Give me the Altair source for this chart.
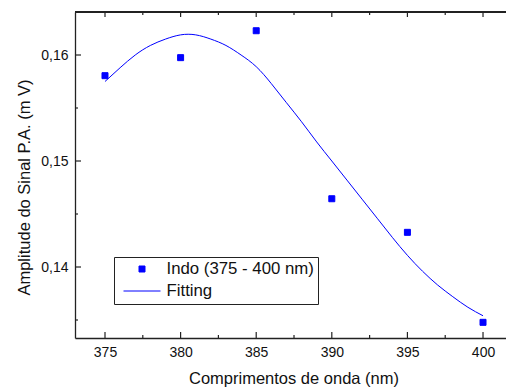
import altair as alt
import pandas as pd

# ---- data ----
wavelength = [375, 380, 385, 390, 395, 400]
amplitude = [0.15805, 0.15975, 0.16229, 0.14644, 0.14327, 0.13478]

fit_x = [375, 376, 377, 378, 379, 380, 381, 382, 383, 384, 385, 386, 387,
         388, 389, 390, 391, 392, 393, 394, 395, 396, 397, 398, 399, 400]
fit_y = [0.1575, 0.1588, 0.1600, 0.1609, 0.1615, 0.1619, 0.1619, 0.1615,
         0.1609, 0.1600, 0.1589, 0.1573, 0.1555, 0.1537, 0.1518, 0.1500,
         0.1482, 0.1464, 0.1446, 0.1428, 0.1411, 0.1396, 0.1383, 0.1372,
         0.1362, 0.1354]

series_names = ["Indo (375 - 400 nm)", "Fitting"]

x_major = [375, 380, 385, 390, 395, 400]
x_minor = [377.5, 382.5, 387.5, 392.5, 397.5]
y_major = [0.14, 0.15, 0.16]
y_minor = [0.135, 0.145, 0.155]

x_domain = [373.016, 401.52]
y_domain = [0.133302, 0.164057]

FONT = "Liberation Sans"
BLUE = "#0000ff"
W, H = 431, 326

pts = pd.DataFrame({"x": wavelength, "y": amplitude, "series": series_names[0]})
fit = pd.DataFrame({"x": fit_x, "y": fit_y, "series": series_names[1]})

xs = alt.Scale(domain=x_domain, nice=False, zero=False)
ys = alt.Scale(domain=y_domain, nice=False, zero=False)

x_axis = alt.Axis(values=x_major, ticks=False, grid=False, domain=True,
                  domainColor="#222", domainWidth=1.3, labelFont=FONT,
                  labelFontSize=14, labelColor="#111", labelPadding=7,
                  title="Comprimentos de onda (nm)", titleFont=FONT,
                  titleFontSize=16.5, titleFontWeight="normal", titleColor="#111",
                  titleBaseline="alphabetic", titleY=45, titleX=218.5)
y_axis = alt.Axis(values=y_major, ticks=False, grid=False, domain=True,
                  domainColor="#222", domainWidth=1.3, labelFont=FONT,
                  labelFontSize=14, labelColor="#111", labelPadding=7,
                  labelExpr="replace(format(datum.value, '.2f'), '.', ',')",
                  title="Amplitude do Sinal P.A. (m V)", titleFont=FONT,
                  titleFontSize=16.5, titleFontWeight="normal", titleColor="#111",
                  titleAngle=270, titleBaseline="alphabetic", titleAlign="center",
                  titleX=-46, titleY=175)

color_scale = alt.Scale(domain=series_names, range=[BLUE, BLUE])
shape_scale = alt.Scale(domain=series_names, range=["square", "stroke"])
size_scale = alt.Scale(domain=series_names, range=[36, 1369])

legend = alt.Legend(title=None, orient="none", legendX=39, legendY=245,
                    strokeColor="#222", fillColor="white", padding=3.5,
                    labelFont=FONT, labelFontSize=16.8, labelColor="#111",
                    symbolOffset=5.5, labelOffset=5.5, rowPadding=4,
                    clipHeight=17, symbolStrokeWidth=1,
                    labelExpr="datum.label + '\u00a0'")

line = alt.Chart(fit).mark_line(strokeWidth=1, interpolate="natural").encode(
    x=alt.X("x:Q", scale=xs, axis=x_axis),
    y=alt.Y("y:Q", scale=ys, axis=y_axis),
    stroke=alt.Stroke("series:N", scale=color_scale, legend=legend),
)

points = alt.Chart(pts).mark_point(filled=True, opacity=1, strokeWidth=1).encode(
    x=alt.X("x:Q", scale=xs),
    y=alt.Y("y:Q", scale=ys),
    fill=alt.Fill("series:N", scale=color_scale, legend=legend),
    stroke=alt.Stroke("series:N", scale=color_scale, legend=legend),
    shape=alt.Shape("series:N", scale=shape_scale, legend=legend),
    size=alt.Size("series:N", scale=size_scale, legend=legend),
)

# tick marks (inward) drawn from the tick value arrays
tick_col = "#222"
xmaj = pd.DataFrame({"v": x_major})
xmin = pd.DataFrame({"v": x_minor})
ymaj = pd.DataFrame({"v": y_major})
ymin = pd.DataFrame({"v": y_minor})

bt_maj = alt.Chart(xmaj).mark_rule(color=tick_col, strokeWidth=1.2).encode(
    x=alt.X("v:Q", scale=xs), y=alt.value(H), y2=alt.value(H - 6))
bt_min = alt.Chart(xmin).mark_rule(color=tick_col, strokeWidth=1.2).encode(
    x=alt.X("v:Q", scale=xs), y=alt.value(H), y2=alt.value(H - 3))
tp_maj = alt.Chart(xmaj).mark_rule(color=tick_col, strokeWidth=1.2).encode(
    x=alt.X("v:Q", scale=xs), y=alt.value(0), y2=alt.value(5))
tp_min = alt.Chart(xmin).mark_rule(color=tick_col, strokeWidth=1.2).encode(
    x=alt.X("v:Q", scale=xs), y=alt.value(0), y2=alt.value(3))
lf_maj = alt.Chart(ymaj).mark_rule(color=tick_col, strokeWidth=1.2).encode(
    y=alt.Y("v:Q", scale=ys), x=alt.value(0), x2=alt.value(6))
lf_min = alt.Chart(ymin).mark_rule(color=tick_col, strokeWidth=1.2).encode(
    y=alt.Y("v:Q", scale=ys), x=alt.value(0), x2=alt.value(3))
top_border = alt.Chart(xmaj).mark_rule(color="#222", strokeWidth=1.3).encode(
    x=alt.value(0), x2=alt.value(W), y=alt.value(0))

chart = alt.layer(
    bt_maj, bt_min, tp_maj, tp_min, lf_maj, lf_min, top_border, line, points
).properties(
    width=W, height=H,
    autosize=alt.AutoSizeParams(type="none"),
    padding={"left": 75, "top": 12, "right": 0, "bottom": 49},
    background="white",
).configure_view(stroke=None)

chart.save("out.html", embed_options={"renderer": "svg", "actions": False})
